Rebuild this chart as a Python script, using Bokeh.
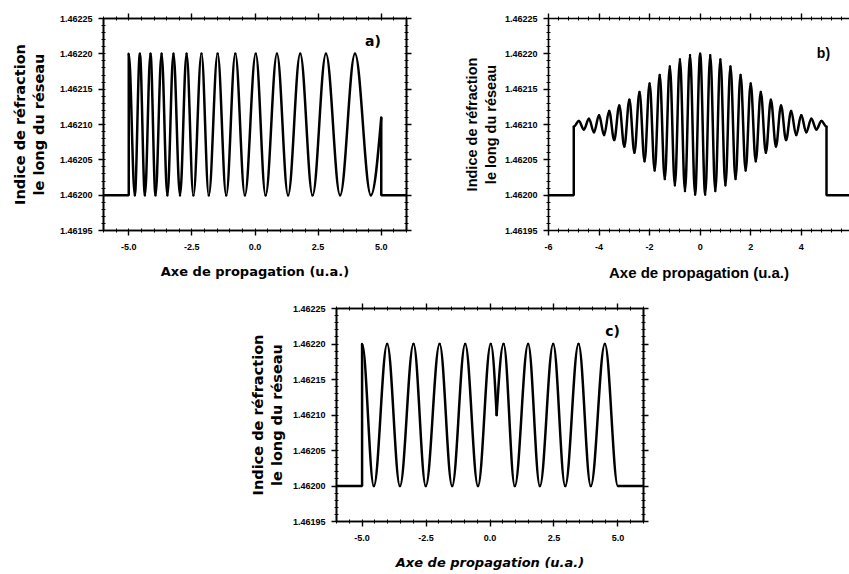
from bokeh.plotting import figure
from bokeh.models import (LinearAxis, SingleIntervalTicker, PrintfTickFormatter,
                          CustomJSTickFormatter, Label, Range1d, Spacer, ColumnDataSource)
from bokeh.layouts import row, column
from bokeh.embed import file_html
from bokeh.resources import INLINE

# ---- grating data -------------------------------------------------------
n_base = 1.46200          # index outside the grating
n_max = 1.46220           # modulation maximum
n_min = 1.46200           # modulation minimum
grating_start = -5.0
grating_end = 5.0

# a) chirped grating: positions of maxima / minima
a_peak_x = [-5.00, -4.56, -4.14, -3.70, -3.23, -2.71, -2.12, -1.48, -0.78,
            0.03, 0.87, 1.79, 2.81, 3.96]
a_trough_x = [-4.76, -4.36, -3.94, -3.47, -2.97, -2.44, -1.83, -1.14, -0.40,
              0.42, 1.31, 2.28, 3.37, 4.59]
a_end_n = 1.46211

# b) apodized grating: maxima / minima with their index values
b_peak_x = [-4.8, -4.4, -4.0, -3.6, -3.2, -2.8, -2.4, -2.0, -1.6, -1.2, -0.8, -0.4,
            0.0, 0.4, 0.8, 1.2, 1.6, 2.0, 2.4, 2.8, 3.2, 3.6, 4.0, 4.4, 4.8]
b_peak_n = [1.462105, 1.462108, 1.462113, 1.462119, 1.462127, 1.462135, 1.462146,
            1.462158, 1.462170, 1.462182, 1.462192, 1.462198, 1.462200, 1.462198,
            1.462192, 1.462182, 1.462170, 1.462158, 1.462146, 1.462135, 1.462127,
            1.462119, 1.462113, 1.462108, 1.462105]
b_trough_x = [-5.0, -4.6, -4.2, -3.8, -3.4, -3.0, -2.6, -2.2, -1.8, -1.4, -1.0, -0.6,
              -0.2, 0.2, 0.6, 1.0, 1.4, 1.8, 2.2, 2.6, 3.0, 3.4, 3.8, 4.2, 4.6, 5.0]
b_trough_n = [1.462097, 1.462093, 1.462089, 1.462085, 1.462078, 1.462069, 1.462060,
              1.462048, 1.462035, 1.462023, 1.462014, 1.462006, 1.462001, 1.462001,
              1.462006, 1.462014, 1.462023, 1.462035, 1.462048, 1.462060, 1.462069,
              1.462078, 1.462085, 1.462089, 1.462093, 1.462097]

# c) phase-shifted grating
c_peak_x = [-5.00, -4.02, -2.99, -1.97, -0.97, 0.03, 0.53, 1.49, 2.47, 3.46, 4.49]
c_trough_x = [-4.54, -3.52, -2.51, -1.48, -0.47, 0.97, 1.95, 2.94, 3.94, 5.00]
c_shift_x = 0.26
c_shift_n = 1.46210

Y_LABEL = "Indice de réfraction\nle long du réseau"
X_LABEL = "Axe de propagation (u.a.)"


def arcs(nodes):
    """Smooth cosine-like arcs between successive nodes (x, n, flat)."""
    d = dict(x0=[], y0=[], x1=[], y1=[], cx0=[], cy0=[], cx1=[], cy1=[])
    for (xa, ya, fa), (xb, yb, fb) in zip(nodes[:-1], nodes[1:]):
        dx, dy = xb - xa, yb - ya
        if fa and fb:
            c0 = (xa + 0.3634 * dx, ya)
            c1 = (xb - 0.3634 * dx, yb)
        elif fa:
            c0 = (xa + 0.3608 * dx, ya)
            c1 = (xa + 0.674 * dx, ya + 0.488 * dy)
        else:
            c0 = (xa + 0.326 * dx, ya + 0.512 * dy)
            c1 = (xa + 0.6392 * dx, yb)
        d["x0"].append(xa); d["y0"].append(ya)
        d["x1"].append(xb); d["y1"].append(yb)
        d["cx0"].append(c0[0]); d["cy0"].append(c0[1])
        d["cx1"].append(c1[0]); d["cy1"].append(c1[1])
    return ColumnDataSource(d)


def panel(width, height, left, right, top, bottom, x_end, x_step, x_fmt,
          label_font, x_label_style, x_label_size, y_label_size, y_standoff,
          frame_right=True):
    p = figure(width=width, height=height, output_backend="svg", toolbar_location=None,
               x_range=Range1d(-6, x_end), y_range=Range1d(1.46195, 1.46225),
               min_border_left=left, min_border_right=right,
               min_border_top=top, min_border_bottom=bottom,
               x_axis_location=None, y_axis_location=None)
    p.grid.visible = False
    p.background_fill_color = "white"
    p.border_fill_color = "white"
    p.outline_line_color = "black" if frame_right else None
    p.outline_line_width = 1.6

    def style(ax, labels):
        ax.axis_line_width = 1.6
        ax.axis_line_color = "black"
        ax.major_tick_out = 5
        ax.major_tick_in = 0
        ax.minor_tick_out = 2
        ax.minor_tick_in = 2
        ax.major_tick_line_width = 1.4
        ax.minor_tick_line_width = 1
        ax.major_tick_line_color = "black"
        ax.minor_tick_line_color = "black"
        ax.major_label_text_font = "Liberation Sans"
        ax.major_label_text_font_style = "bold"
        ax.major_label_text_font_size = "9px"
        ax.major_label_text_color = "black"
        ax.axis_label_text_color = "black"
        if not labels:
            ax.formatter = CustomJSTickFormatter(code="return ''")
            ax.major_label_standoff = 0

    def xt():
        return SingleIntervalTicker(interval=x_step, num_minor_ticks=5)

    def yt():
        return SingleIntervalTicker(interval=0.00005, num_minor_ticks=5)

    xb = LinearAxis(ticker=xt(), formatter=PrintfTickFormatter(format=x_fmt))
    style(xb, True)
    xb.major_label_standoff = 8
    xb.axis_label = X_LABEL
    xb.axis_label_text_font = label_font
    xb.axis_label_text_font_style = x_label_style
    xb.axis_label_text_font_size = x_label_size
    xb.axis_label_standoff = 11
    p.add_layout(xb, "below")

    yl = LinearAxis(ticker=yt(), formatter=PrintfTickFormatter(format="%.5f"))
    style(yl, True)
    yl.major_label_standoff = 6
    yl.axis_label = Y_LABEL
    yl.axis_label_text_font = label_font
    yl.axis_label_text_font_style = "bold"
    yl.axis_label_text_font_size = y_label_size
    yl.axis_label_standoff = y_standoff
    p.add_layout(yl, "left")

    xa = LinearAxis(ticker=xt())
    style(xa, False)
    p.add_layout(xa, "above")
    if frame_right:
        yr = LinearAxis(ticker=yt())
        style(yr, False)
        p.add_layout(yr, "right")
    return p


def draw(p, nodes, before, after):
    p.line(before[0], before[1], line_color="black", line_width=2.5)
    p.line(after[0], after[1], line_color="black", line_width=2.5)
    p.bezier(x0="x0", y0="y0", x1="x1", y1="y1", cx0="cx0", cy0="cy0",
             cx1="cx1", cy1="cy1", source=arcs(nodes),
             line_color="black", line_width=2.5, line_cap="round")


def tag(p, x, y, text, font):
    p.add_layout(Label(x=x, y=y, text=text, text_font=font, text_font_style="bold",
                       text_font_size="14px", text_align="center",
                       text_baseline="middle", text_color="black"))


# ---- a) ----
pa = panel(420, 290, 103, 14, 17, 60, 6, 2.5, "%.1f", "DejaVu Sans", "bold",
           "13px", "14.5px", 10)
nodes_a = sorted([(x, n_max, True) for x in a_peak_x] +
                 [(x, n_min, True) for x in a_trough_x]) + [(grating_end, a_end_n, False)]
draw(pa, nodes_a,
     ([-6, grating_start, grating_start], [n_base, n_base, n_max]),
     ([grating_end, grating_end, 6], [a_end_n, n_base, n_base]))
tag(pa, 4.67, 1.462218, "a)", "DejaVu Sans")

# ---- b) ----
pb = panel(429, 290, 128, 0, 18, 60, 5.91, 2, "%.0f", "Liberation Sans", "bold",
           "15px", "14.5px", 3, frame_right=False)
nodes_b = sorted([(x, n, True) for x, n in zip(b_peak_x, b_peak_n)] +
                 [(x, n, True) for x, n in zip(b_trough_x, b_trough_n)])
draw(pb, nodes_b,
     ([-6, grating_start, grating_start], [n_base, n_base, b_trough_n[0]]),
     ([grating_end, grating_end, 6], [b_trough_n[-1], n_base, n_base]))
tag(pb, 4.88, 1.462201, "b)", "Liberation Sans")

# ---- c) ----
pc = panel(427, 284, 106, 14, 18, 53, 6, 2.5, "%.1f", "DejaVu Sans", "bold italic",
           "13px", "14.5px", 5)
nodes_c = sorted([(x, n_max, True) for x in c_peak_x] +
                 [(x, n_min, True) for x in c_trough_x] +
                 [(c_shift_x, c_shift_n, False)])
draw(pc, nodes_c,
     ([-6, grating_start, grating_start], [n_base, n_base, n_max]),
     ([c_trough_x[-1], 6], [n_min, n_min]))
tag(pc, 4.79, 1.462219, "c)", "DejaVu Sans")

layout = column(row(pa, pb), row(Spacer(width=230, height=284), pc))

open("out.html", "w").write(file_html(layout, INLINE))
